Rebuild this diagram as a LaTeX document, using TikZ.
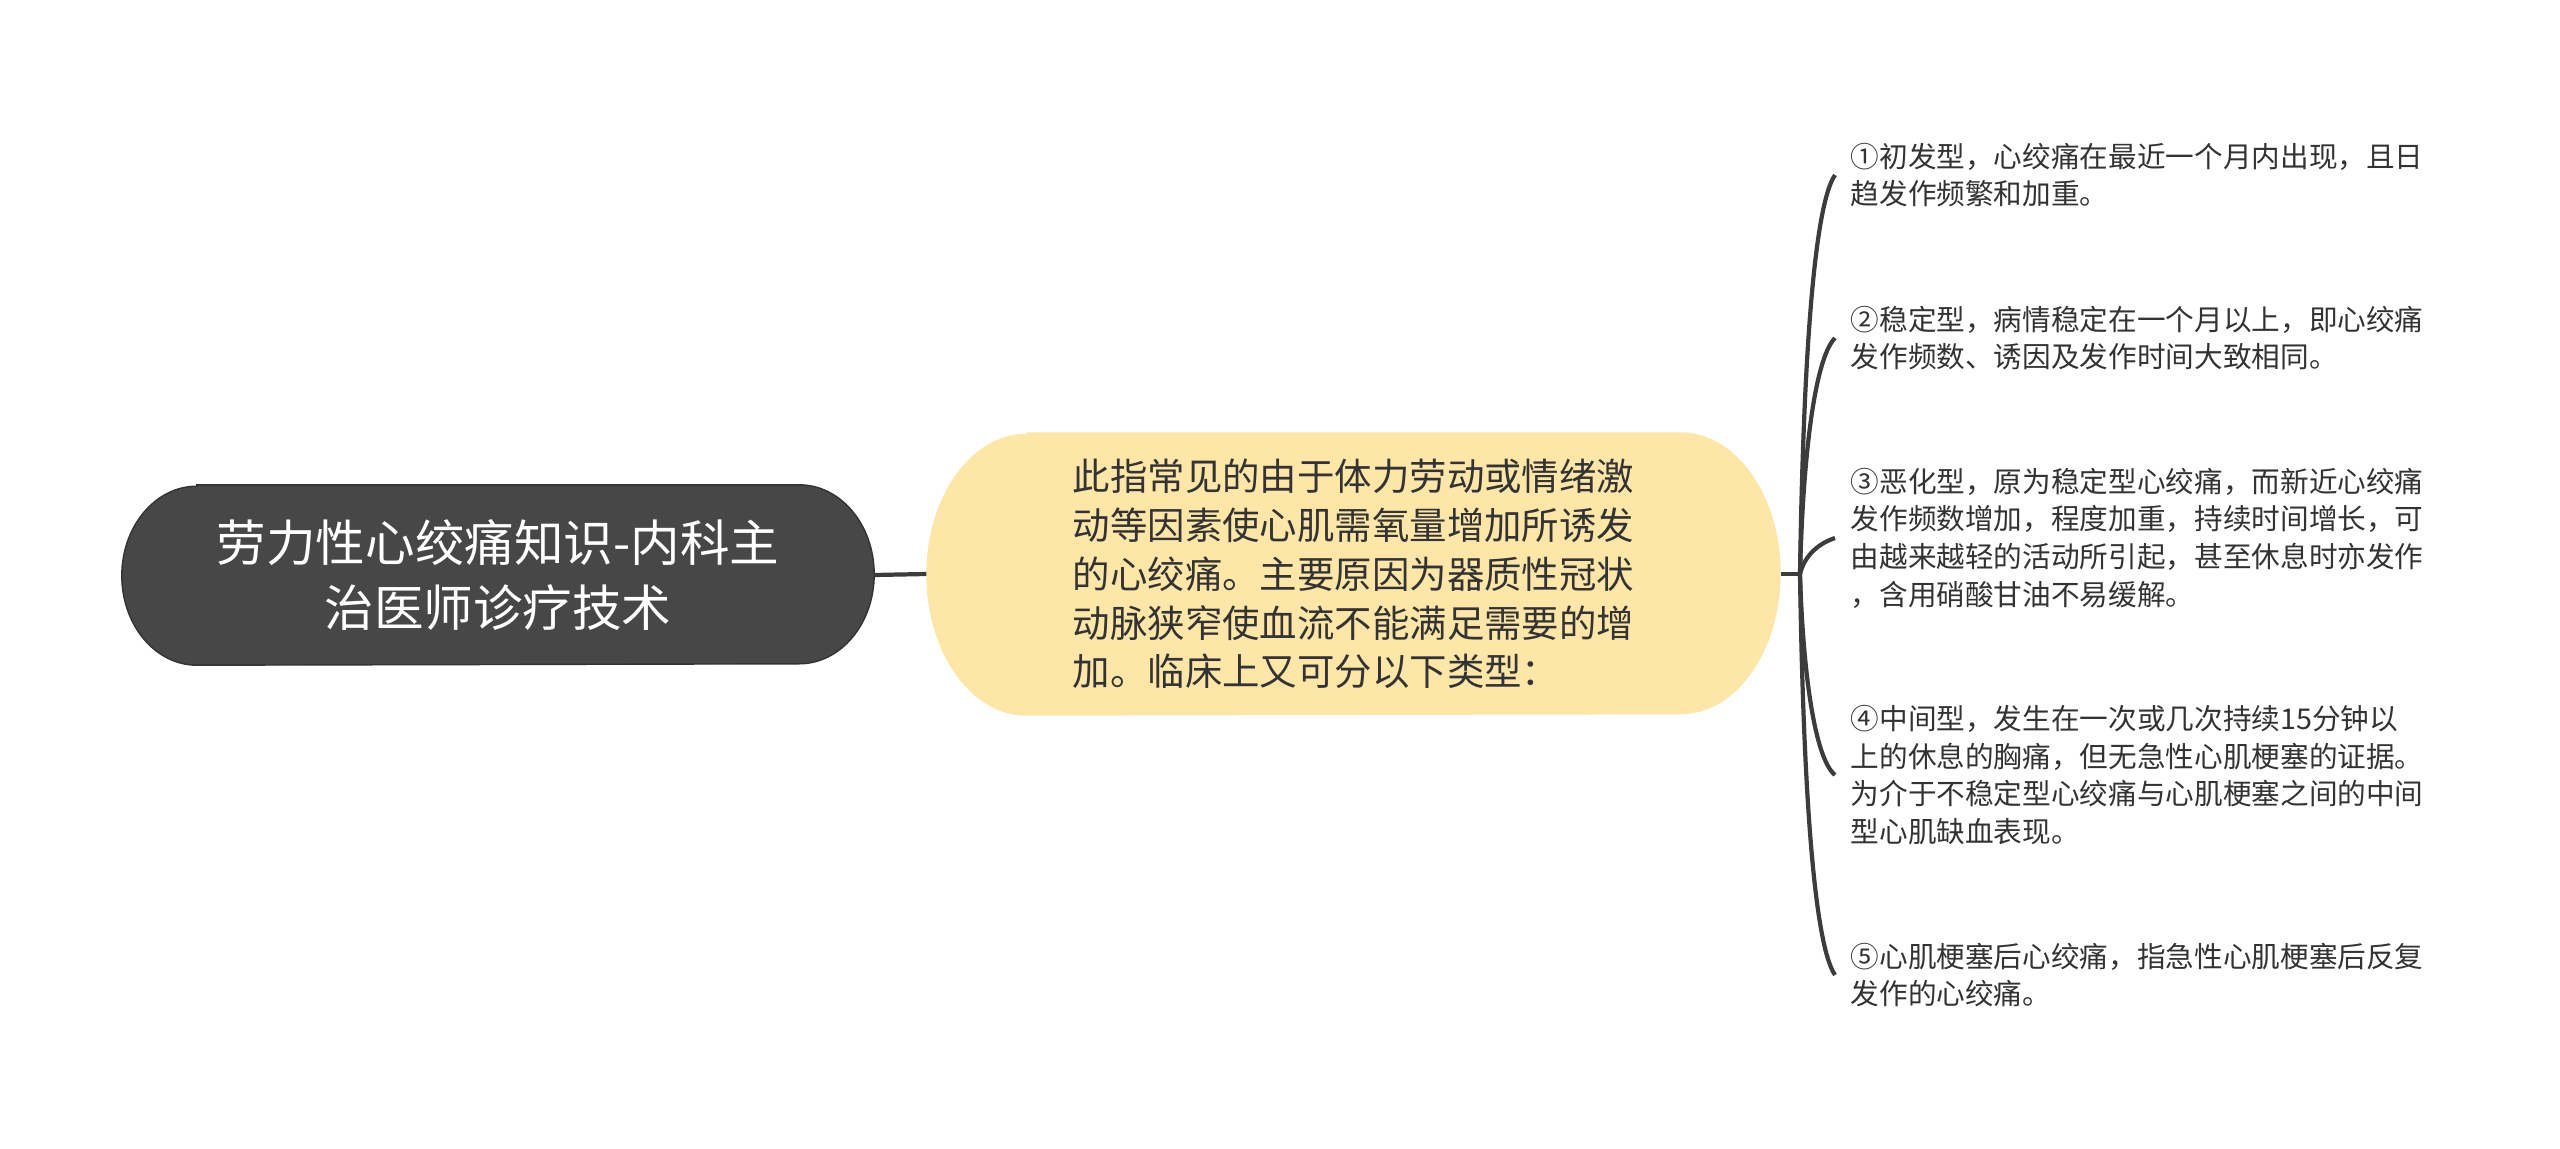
\documentclass[tikz,border=0pt]{standalone}
\usepackage{fontspec}
\newfontfamily\cjk{Noto Sans CJK SC}
\usetikzlibrary{backgrounds}
\definecolor{rootgray}{RGB}{71,71,71}
\definecolor{midyellow}{RGB}{253,230,168}
\definecolor{linegray}{RGB}{60,60,60}
\definecolor{textgray}{RGB}{51,51,51}
\begin{document}
\begin{tikzpicture}
[rootstyle/.style={minimum width=7.51cm,minimum height=1.79cm,align=center,text=white,font=\cjk\fontsize{14.1pt}{18.4pt}\selectfont},%
 midstyle/.style={minimum width=8.53cm,minimum height=2.82cm,align=left,text=textgray,font=\cjk\fontsize{10.65pt}{13.9pt}\selectfont},%
 leafstyle/.style={anchor=west,inner sep=0.15cm,align=left,text=textgray,font=\cjk\fontsize{8.15pt}{10.7pt}\selectfont},%
 branchstyle/.style={draw=linegray,line width=1.2pt}]
\useasboundingbox (0,0) rectangle (25.6,-11.49);
%% root and main text
\node[rootstyle] (root) at (4.98,-5.75) {劳力性心绞痛知识-内科主\\治医师诊疗技术};
\node[midstyle] (mid) at (13.535,-5.74) {此指常见的由于体力劳动或情绪激\\动等因素使心肌需氧量增加所诱发\\的心绞痛。主要原因为器质性冠状\\动脉狭窄使血流不能满足需要的增\\加。临床上又可分以下类型：};
\begin{pgfonlayer}{background}
\fill[rootgray,draw=black!80,line width=0.4pt] ([xshift=0.75cm]root.north west) -- ([xshift=-0.75cm]root.north east)
  arc[start angle=90,end angle=-90,x radius=0.75cm,y radius=0.895cm]
  -- ([xshift=0.75cm]root.south west)
  arc[start angle=270,end angle=90,x radius=0.75cm,y radius=0.895cm] -- cycle;
\fill[midyellow] ([xshift=1cm]mid.north west) -- ([xshift=-1cm]mid.north east)
  arc[start angle=90,end angle=-90,x radius=1cm,y radius=1.41cm]
  -- ([xshift=1cm]mid.south west)
  arc[start angle=270,end angle=90,x radius=1cm,y radius=1.41cm] -- cycle;
\end{pgfonlayer}
%% types
\node[leafstyle] (t1) at (18.35,-1.75) {①初发型，心绞痛在最近一个月内出现，且日\\趋发作频繁和加重。};
\node[leafstyle] (t2) at (18.35,-3.38) {②稳定型，病情稳定在一个月以上，即心绞痛\\发作频数、诱因及发作时间大致相同。};
\node[leafstyle] (t3) at (18.35,-5.38) {③恶化型，原为稳定型心绞痛，而新近心绞痛\\发作频数增加，程度加重，持续时间增长，可\\由越来越轻的活动所引起，甚至休息时亦发作\\，含用硝酸甘油不易缓解。};
\node[leafstyle] (t4) at (18.35,-7.75) {④中间型，发生在一次或几次持续15分钟以\\上的休息的胸痛，但无急性心肌梗塞的证据。\\为介于不稳定型心绞痛与心肌梗塞之间的中间\\型心肌缺血表现。};
\node[leafstyle] (t5) at (18.35,-9.75) {⑤心肌梗塞后心绞痛，指急性心肌梗塞后反复\\发作的心绞痛。};
%% connectors
\coordinate (j) at (18.0,-5.74);
\draw[branchstyle] (root.east) -- (mid.west);
\draw[branchstyle] (mid.east) -- (j);
\draw[branchstyle] (j) .. controls +(0.03,2.0) and +(-0.22,-0.32) .. (t1.west);
\draw[branchstyle] (j) .. controls +(0.03,1.2) and +(-0.2,-0.2) .. (t2.west);
\draw[branchstyle] (j) .. controls +(0.05,0.2) and +(-0.15,-0.05) .. (t3.west);
\draw[branchstyle] (j) .. controls +(0.03,-1.0) and +(-0.2,0.16) .. (t4.west);
\draw[branchstyle] (j) .. controls +(0.03,-2.0) and +(-0.22,0.32) .. (t5.west);
\end{tikzpicture}
\end{document}
